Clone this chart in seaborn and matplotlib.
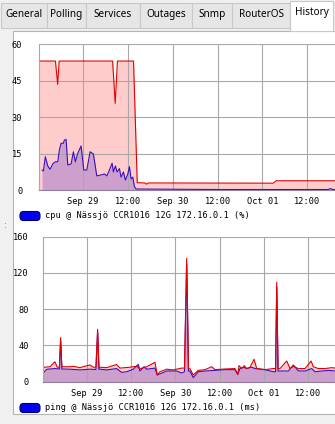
import matplotlib
matplotlib.use("Agg")
import matplotlib.pyplot as plt
from matplotlib.patches import Rectangle, FancyBboxPatch
import seaborn as sns
import pandas as pd

# ---------------- data (x = hours since Sep 28 00:00) ----------------
tab_labels = ["General", "Polling", "Services", "Outages", "Snmp", "RouterOS", "History"]
x_tick_hours = [24, 36, 48, 60, 72, 84]
x_tick_labels = ["Sep 29", "12:00", "Sep 30", "12:00", "Oct 01", "12:00"]

cpu_ticks = [0, 15, 30, 45, 60]
ping_ticks = [0, 40, 80, 120, 160]

cpu_max_hours = [12.3, 16.6, 17.2, 17.6, 31.9, 32.6, 33.2, 37.5, 38.5, 40.5, 41.0, 41.5,
                 74.9, 75.7, 99.0]
cpu_max_vals = [53, 53, 43.4, 53, 53, 35.6, 53, 53, 3.0, 2.9, 2.4, 2.9,
                2.8, 3.8, 3.8]

cpu_avg_hours = [13.02, 13.37, 13.9, 14.54, 15.16, 15.88, 16.58, 17.22, 17.65, 18.11,
                 18.72, 18.99, 19.45, 19.9, 20.79, 21.4, 21.94, 22.58, 23.46, 24.19,
                 24.99, 25.88, 26.76, 27.67, 28.82, 29.71, 30.35, 31.05, 31.77, 32.12,
                 32.65, 33.11, 33.72, 34.18, 34.8, 35.33, 35.97, 36.4, 36.86, 37.31,
                 37.74, 38.2, 60.0, 89.6, 90.2, 90.8, 99.0]
cpu_avg_vals = [8.2, 7.8, 13.7, 9.9, 8.5, 10.7, 11.6, 11.6, 16.4, 19.2,
                19.2, 20.5, 20.8, 10.3, 10.7, 15.7, 11.6, 15.1, 18.1, 8.2,
                8.2, 15.7, 14.8, 5.8, 6.2, 6.6, 5.8, 8.2, 11.0, 7.4,
                9.9, 7.4, 8.8, 5.3, 7.4, 4.1, 6.6, 9.6, 4.5, 5.3,
                1.4, 0.4, 0.2, 0.2, 0.6, 0.2, 0.2]

ping_max_hours = [12.05, 12.3, 13.95, 15.31, 15.94, 16.53, 16.86, 17.2, 19.38, 20.28,
                  22.1, 24.81, 25.71, 26.44, 26.9, 27.26, 29.35, 32.06, 32.96, 35.68,
                  37.49, 38.39, 40.21, 42.46, 43.09, 43.82, 45.64, 47.43, 49.71, 50.47,
                  51.07, 51.56, 51.97, 52.86, 54.22, 56.04, 57.86, 58.75, 61.47, 64.18,
                  64.92, 65.27, 66.0, 66.71, 67.36, 68.26, 69.34, 70.08, 72.33, 74.58,
                  75.18, 75.51, 75.86, 76.4, 78.22, 79.12, 80.01, 81.37, 83.19, 84.82,
                  85.45, 86.8, 88.62, 90.44, 91.34, 94.0, 97.0, 99.5]
ping_max_vals = [15.9, 15.9, 16.5, 22.0, 16.0, 16.0, 48.6, 16.5, 16.5, 17.0,
                 15.5, 18.5, 16.0, 16.0, 57.8, 16.0, 15.5, 19.0, 15.0, 16.0,
                 17.0, 14.2, 16.5, 21.4, 7.4, 11.0, 13.8, 13.0, 15.0, 15.0,
                 136.0, 15.0, 14.2, 7.4, 12.5, 13.3, 16.5, 13.3, 14.0, 14.5,
                 8.0, 17.7, 14.5, 17.7, 14.5, 16.0, 24.7, 14.5, 13.3, 14.5,
                 14.5, 109.7, 14.5, 14.5, 22.8, 14.5, 17.0, 14.5, 14.5, 22.8,
                 16.5, 14.5, 14.5, 15.5, 15.0, 16.0, 14.5, 15.0]

ping_avg_hours = [12.05, 12.3, 13.06, 15.31, 16.53, 16.86, 17.2, 19.38, 22.1, 24.81,
                  26.44, 26.9, 27.26, 27.53, 29.35, 32.06, 33.42, 34.78, 36.57, 37.93,
                  38.39, 39.48, 40.21, 42.46, 43.09, 45.64, 48.36, 49.71, 50.47, 51.07,
                  51.56, 51.97, 52.86, 54.22, 56.04, 58.75, 61.47, 64.18, 64.92, 65.54,
                  66.44, 67.36, 68.72, 69.62, 72.33, 74.58, 75.18, 75.51, 75.86, 76.86,
                  78.67, 80.01, 81.37, 83.19, 85.0, 85.9, 87.72, 89.52, 91.34, 94.0,
                  97.0, 99.5]
ping_avg_vals = [10.3, 10.3, 13.7, 14.5, 14.0, 45.0, 14.0, 13.8, 13.0, 13.8,
                 13.5, 55.0, 13.8, 13.8, 13.0, 14.5, 10.3, 11.0, 13.8, 19.2,
                 11.8, 16.5, 13.8, 15.0, 7.4, 11.8, 11.8, 9.6, 11.0, 130.0,
                 11.8, 11.8, 4.4, 11.0, 11.8, 12.5, 13.3, 13.3, 8.0, 14.5,
                 16.0, 14.5, 16.0, 14.5, 13.3, 11.0, 11.0, 105.0, 11.8, 11.8,
                 11.8, 18.4, 12.0, 11.8, 14.5, 11.0, 11.8, 12.5, 11.8, 12.5,
                 12.0, 12.0]

legend_cpu = "cpu @ Nässjö CCR1016 12G 172.16.0.1 (%)"
legend_ping = "ping @ Nässjö CCR1016 12G 172.16.0.1 (ms)"

# ---------------- styling ----------------
sns.set_theme(style="white")
plt.rcParams["font.family"] = ["DejaVu Sans Mono", "DejaVu Sans"]

W, H = 335, 424
fig = plt.figure(figsize=(W / 100, H / 100), dpi=100)
fig.patch.set_facecolor("#f0f0f0")

PINK = "#ffcccc"
MAUVE = "#cc9fcc"
RED = "#e00000"
BLUE = "#3a10c0"
GRID = "#a8a8a8"
MONO = ["DejaVu Sans Mono"]


def fx(px):
    return px / W


def fy(py):
    return 1 - py / H


# background panel + tabs drawn in figure pixel space
bg = fig.add_axes([0, 0, 1, 1], zorder=-10)
bg.set_xlim(0, W)
bg.set_ylim(H, 0)
bg.axis("off")
bg.add_patch(Rectangle((12.5, 30.5), 340, 383, facecolor="white", edgecolor="#b4b4b4", lw=0.8))
tab_edges = [1, 47, 86, 140, 192, 232, 290, 333]
for i, lab in enumerate(tab_labels):
    x0, x1 = tab_edges[i], tab_edges[i + 1]
    sel = lab == "History"
    y0 = 1 if sel else 3
    bg.add_patch(Rectangle((x0, y0), x1 - x0, (31 if sel else 28) - y0,
                           facecolor="white" if sel else "#e6e6e6",
                           edgecolor="#c8c8c8", lw=0.8, zorder=2 if sel else 1))
    bg.text((x0 + x1) / 2, 14.5 if not sel else 13, lab, ha="center", va="center",
            fontsize=7.2, family=["Noto Sans", "DejaVu Sans"], color="#000000", zorder=3)
bg.text(5, 225, ":", ha="center", va="center", fontsize=6, color="#606060", family=["DejaVu Sans"])


def make_axes(left, top, bottom):
    ax = fig.add_axes([fx(left), fy(bottom), fx(367 - left), (bottom - top) / H])
    ax.set_facecolor("white")
    ax.patch.set_alpha(0)
    return ax


def style_axes(ax, ylim, yticks, xlim, ypad):
    ax.set_xlim(*xlim)
    ax.set_ylim(*ylim)
    ax.set_yticks(yticks)
    ax.set_yticklabels([str(t) for t in yticks], family=MONO, fontsize=6.2)
    ax.set_xticks(x_tick_hours)
    ax.set_xticklabels(x_tick_labels, family=MONO, fontsize=6.2)
    ax.tick_params(axis="both", length=0, pad=ypad, colors="#000000")
    ax.tick_params(axis="x", pad=5)
    ax.set_axisbelow("line")
    ax.grid(True, color=GRID, lw=0.8)
    for s in ["top", "right"]:
        ax.spines[s].set_visible(False)
    ax.spines["left"].set_color(GRID)
    ax.spines["left"].set_linewidth(0.8)
    ax.spines["bottom"].set_color("#9080a0")
    ax.spines["bottom"].set_linewidth(0.8)
    ax.set_xlabel("")
    ax.set_ylabel("")
    ax.legend_ = None


def draw_series(ax, hmax, vmax, havg, vavg):
    dmax = pd.DataFrame({"h": hmax, "v": vmax})
    davg = pd.DataFrame({"h": havg, "v": vavg})
    ax.fill_between(dmax["h"], 0, dmax["v"], color=PINK, lw=0, zorder=0.5)
    ax.fill_between(davg["h"], 0, davg["v"], color=MAUVE, lw=0, zorder=0.6)
    sns.lineplot(data=dmax, x="h", y="v", ax=ax, color=RED, lw=0.8, zorder=2.1,
                 estimator=None, sort=False)
    sns.lineplot(data=davg, x="h", y="v", ax=ax, color=BLUE, lw=0.8, zorder=2.0,
                 estimator=None, sort=False)


# top chart: CPU
ax1 = make_axes(39, 44, 190)
draw_series(ax1, cpu_max_hours, cpu_max_vals, cpu_avg_hours, cpu_avg_vals)
style_axes(ax1, (0, 60), cpu_ticks, (12.2, 100), 12)

# bottom chart: ping
ax2 = make_axes(42.7, 236.7, 381.7)
draw_series(ax2, ping_max_hours, ping_max_vals, ping_avg_hours, ping_avg_vals)
style_axes(ax2, (0, 160), ping_ticks, (12.0, 100), 10)

# legends (blue rounded box + text)
for label, yc in [(legend_cpu, 216), (legend_ping, 408)]:
    bg.add_patch(FancyBboxPatch((20, yc - 4.5), 20, 9, boxstyle="round,pad=0,rounding_size=3.5",
                                facecolor="#0000ee", edgecolor="#000060", lw=0.8, zorder=3))
    bg.text(45, yc, label, ha="left", va="center", fontsize=6.2, family=MONO,
            color="#000000", zorder=3)

fig.savefig("out.png", dpi=100, facecolor=fig.get_facecolor())
